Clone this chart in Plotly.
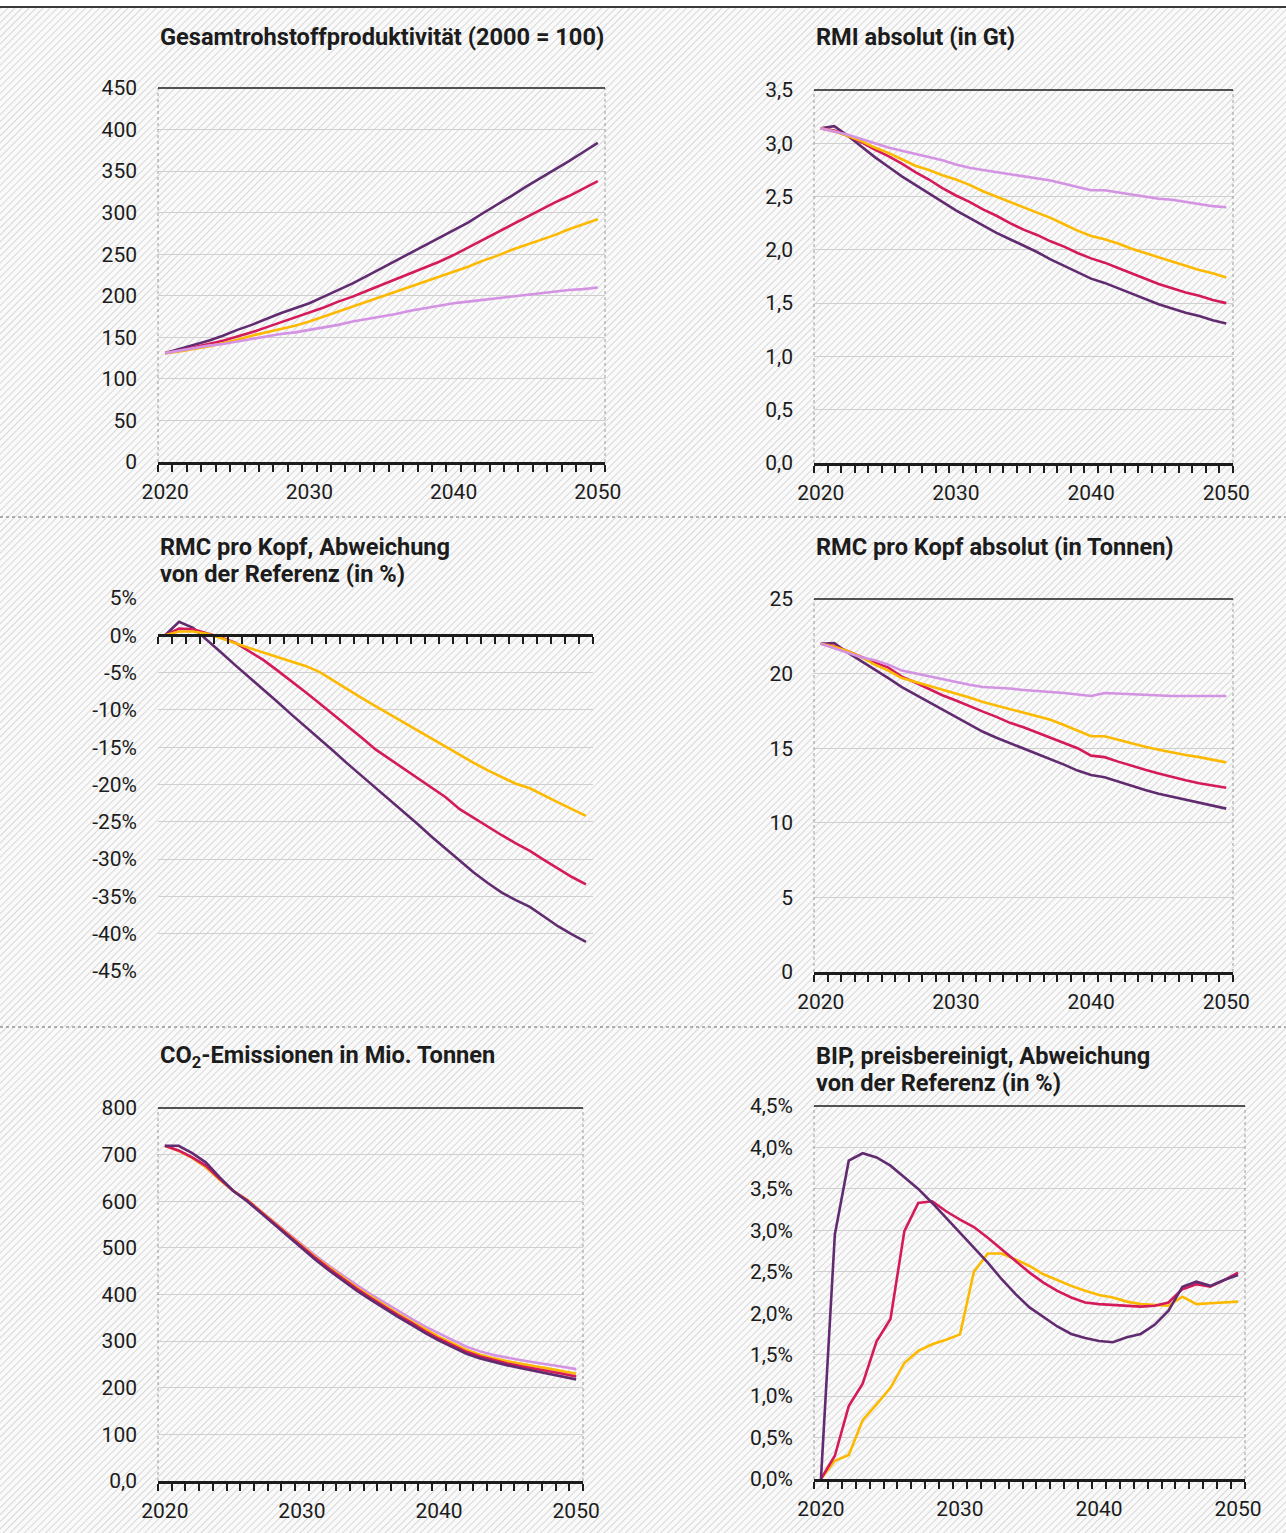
import base64
import plotly.graph_objects as go

W, H = 1286, 1533

years = list(range(2020, 2051))

# Gesamtrohstoffproduktivitaet (2000 = 100)
prod_dp = [131, 136, 141, 146, 152, 159, 165, 172, 179, 185, 191, 199, 207, 215, 224, 233,
           242, 251, 260, 269, 278, 288, 299, 309, 320, 331, 341, 352, 362, 373, 384]
prod_cr = [131, 134, 138, 142, 146, 151, 156, 162, 168, 174, 180, 186, 193, 199, 206, 213,
           220, 227, 234, 241, 249, 258, 267, 276, 286, 295, 303, 312, 320, 329, 338]
prod_ye = [131, 133, 136, 139, 143, 147, 152, 156, 160, 164, 169, 175, 181, 187, 193, 199,
           205, 211, 217, 223, 229, 235, 242, 248, 255, 261, 267, 273, 280, 286, 292]
prod_lp = [131, 134, 137, 140, 142, 145, 148, 151, 154, 156, 159, 162, 165, 169, 172, 175,
           178, 182, 185, 188, 191, 193, 195, 197, 199, 201, 203, 205, 207, 208, 210]

# RMI absolut (in Gt)
rmi_dp = [3.14, 3.16, 3.07, 2.97, 2.87, 2.78, 2.69, 2.61, 2.53, 2.45, 2.37, 2.30, 2.23, 2.16,
          2.10, 2.04, 1.98, 1.91, 1.85, 1.79, 1.73, 1.69, 1.64, 1.59, 1.54, 1.49, 1.45, 1.41,
          1.38, 1.34, 1.31]
rmi_cr = [3.14, 3.12, 3.07, 3.01, 2.94, 2.88, 2.81, 2.73, 2.66, 2.58, 2.51, 2.45, 2.38, 2.32,
          2.25, 2.19, 2.14, 2.08, 2.03, 1.97, 1.92, 1.88, 1.83, 1.78, 1.73, 1.68, 1.64, 1.60,
          1.57, 1.53, 1.50]
rmi_ye = [3.14, 3.11, 3.07, 3.02, 2.96, 2.91, 2.85, 2.79, 2.75, 2.70, 2.66, 2.61, 2.55, 2.50,
          2.45, 2.40, 2.35, 2.30, 2.24, 2.18, 2.13, 2.10, 2.06, 2.01, 1.97, 1.93, 1.89, 1.85,
          1.81, 1.78, 1.74]
rmi_lp = [3.14, 3.11, 3.08, 3.04, 3.00, 2.96, 2.93, 2.90, 2.87, 2.84, 2.80, 2.77, 2.75, 2.73,
          2.71, 2.69, 2.67, 2.65, 2.62, 2.59, 2.56, 2.56, 2.54, 2.52, 2.50, 2.48, 2.47, 2.45,
          2.43, 2.41, 2.40]

# RMC pro Kopf, Abweichung von der Referenz (in %)
dev_dp = [0, 1.8, 1.0, -0.6, -2.3, -4.0, -5.6, -7.3, -8.9, -10.6, -12.2, -13.9, -15.5, -17.2,
          -18.8, -20.5, -22.1, -23.7, -25.3, -27.0, -28.6, -30.3, -31.8, -33.2, -34.5, -35.5,
          -36.4, -37.7, -39.0, -40.1, -41.1]
dev_cr = [0, 0.9, 0.8, 0.3, -0.3, -1.0, -2.1, -3.3, -4.7, -6.1, -7.6, -9.1, -10.6, -12.1,
          -13.7, -15.3, -16.6, -17.9, -19.1, -20.4, -21.7, -23.3, -24.5, -25.7, -26.8, -27.9,
          -28.9, -30.1, -31.3, -32.4, -33.4]
dev_ye = [0, 0.5, 0.5, 0.2, -0.4, -1.1, -1.7, -2.3, -2.9, -3.5, -4.1, -4.9, -6.1, -7.3,
          -8.4, -9.5, -10.6, -11.7, -12.8, -13.9, -15.0, -16.0, -17.1, -18.1, -19.0, -19.9,
          -20.5, -21.5, -22.4, -23.3, -24.2]

# RMC pro Kopf absolut (in Tonnen)
cap_dp = [22.0, 22.05, 21.4, 20.85, 20.3, 19.7, 19.1, 18.6, 18.1, 17.6, 17.05, 16.55, 16.1,
          15.7, 15.35, 15.0, 14.6, 14.25, 13.9, 13.5, 13.2, 13.05, 12.75, 12.45, 12.2, 11.95,
          11.75, 11.5, 11.3, 11.1, 10.95]
cap_cr = [22.0, 21.85, 21.5, 21.1, 20.75, 20.4, 19.8, 19.4, 18.95, 18.55, 18.2, 17.8, 17.45,
          17.1, 16.7, 16.4, 16.05, 15.7, 15.35, 15.0, 14.5, 14.4, 14.1, 13.8, 13.55, 13.3,
          13.05, 12.85, 12.65, 12.5, 12.35]
cap_ye = [22.0, 21.8, 21.5, 21.1, 20.6, 20.2, 19.7, 19.45, 19.2, 18.95, 18.7, 18.4, 18.1,
          17.85, 17.6, 17.4, 17.1, 16.9, 16.55, 16.2, 15.8, 15.8, 15.55, 15.3, 15.1, 14.9,
          14.7, 14.55, 14.4, 14.25, 14.05]
cap_lp = [22.0, 21.7, 21.4, 21.1, 20.9, 20.6, 20.2, 20.0, 19.8, 19.6, 19.45, 19.25, 19.1,
          19.05, 19.0, 18.9, 18.85, 18.8, 18.7, 18.6, 18.5, 18.7, 18.65, 18.6, 18.6, 18.55,
          18.5, 18.5, 18.5, 18.55, 18.5]

# CO2-Emissionen in Mio. Tonnen
co2_dp = [719, 719, 703, 683, 651, 622, 600, 575, 549, 523, 498, 474, 451, 429, 408, 389,
          370, 352, 335, 317, 301, 287, 273, 263, 255, 248, 242, 236, 231, 225, 218]
co2_cr = [719, 709, 694, 676, 648, 622, 602, 577, 552, 527, 502, 478, 455, 433, 412, 393,
          374, 356, 339, 321, 305, 291, 277, 267, 259, 252, 246, 241, 236, 230, 224]
co2_ye = [719, 708, 693, 673, 646, 622, 603, 578, 553, 528, 504, 480, 458, 436, 415, 396,
          377, 359, 342, 325, 309, 295, 281, 271, 263, 257, 251, 246, 241, 235, 230]
co2_lp = [719, 708, 693, 673, 646, 622, 603, 579, 554, 530, 506, 483, 461, 440, 420, 401,
          383, 365, 348, 331, 316, 302, 288, 278, 270, 264, 259, 254, 250, 245, 240]

# BIP, preisbereinigt, Abweichung von der Referenz (in %)
bip_dp = [0, 2.95, 3.84, 3.93, 3.88, 3.78, 3.64, 3.50, 3.33, 3.15, 2.98, 2.80, 2.61, 2.41,
          2.23, 2.07, 1.95, 1.84, 1.75, 1.70, 1.665, 1.65, 1.71, 1.75, 1.86, 2.03, 2.32, 2.38,
          2.33, 2.40, 2.46]
bip_cr = [0, 0.28, 0.88, 1.15, 1.66, 1.93, 2.99, 3.33, 3.35, 3.23, 3.13, 3.04, 2.91, 2.77,
          2.63, 2.49, 2.37, 2.27, 2.19, 2.13, 2.11, 2.10, 2.09, 2.08, 2.09, 2.13, 2.29, 2.35,
          2.32, 2.40, 2.49]
bip_ye = [0, 0.22, 0.29, 0.71, 0.90, 1.10, 1.40, 1.545, 1.625, 1.68, 1.745, 2.50, 2.72, 2.72,
          2.65, 2.57, 2.47, 2.40, 2.33, 2.27, 2.22, 2.19, 2.14, 2.11, 2.10, 2.09, 2.20, 2.11,
          2.12, 2.13, 2.14]

x_ticks = [2020, 2030, 2040, 2050]
x_labels = ["2020", "2030", "2040", "2050"]

y1_ticks = [0, 50, 100, 150, 200, 250, 300, 350, 400, 450]
y1_labels = ["0", "50", "100", "150", "200", "250", "300", "350", "400", "450"]
y2_ticks = [0, 0.5, 1.0, 1.5, 2.0, 2.5, 3.0, 3.5]
y2_labels = ["0,0", "0,5", "1,0", "1,5", "2,0", "2,5", "3,0", "3,5"]
y3_ticks = [-45, -40, -35, -30, -25, -20, -15, -10, -5, 0, 5]
y3_labels = ["-45%", "-40%", "-35%", "-30%", "-25%", "-20%", "-15%", "-10%", "-5%", "0%", "5%"]
y4_ticks = [0, 5, 10, 15, 20, 25]
y4_labels = ["0", "5", "10", "15", "20", "25"]
y5_ticks = [0, 100, 200, 300, 400, 500, 600, 700, 800]
y5_labels = ["0,0", "100", "200", "300", "400", "500", "600", "700", "800"]
y6_ticks = [0, 0.5, 1.0, 1.5, 2.0, 2.5, 3.0, 3.5, 4.0, 4.5]
y6_labels = ["0,0%", "0,5%", "1,0%", "1,5%", "2,0%", "2,5%", "3,0%", "3,5%", "4,0%", "4,5%"]

C_DP = "#612b70"
C_CR = "#d41a5b"
C_YE = "#fcb900"
C_LP = "#d392e2"
INK = "#1c1c1c"
FONT = "Roboto"

# panel boxes in pixels: left, right, top, bottom
boxes = [(158, 605, 88, 462), (814, 1233, 90, 463),
         (158, 593, 598, 971), (814, 1233, 599, 972),
         (158, 583, 1108, 1481), (814, 1245, 1106, 1479)]

# title lines: text, left px, centre px
title_lines = [
    ("Gesamtrohstoffproduktivität (2000 = 100)", 158, 37),
    ("RMI absolut (in Gt)", 814, 37),
    ("RMC pro Kopf, Abweichung", 158, 547),
    ("von der Referenz (in %)", 158, 574),
    ("RMC pro Kopf absolut (in Tonnen)", 814, 547),
    ("CO<sub>2</sub>-Emissionen in Mio. Tonnen", 158, 1056),
    ("BIP, preisbereinigt, Abweichung", 814, 1056),
    ("von der Referenz (in %)", 814, 1083),
]

panels = [
    ([prod_dp, prod_cr, prod_ye, prod_lp], [0, 450], y1_ticks, y1_labels),
    ([rmi_dp, rmi_cr, rmi_ye, rmi_lp], [0, 3.5], y2_ticks, y2_labels),
    ([dev_dp, dev_cr, dev_ye], [-45, 5], y3_ticks, y3_labels),
    ([cap_dp, cap_cr, cap_ye, cap_lp], [0, 25], y4_ticks, y4_labels),
    ([co2_lp, co2_ye, co2_cr, co2_dp], [0, 800], y5_ticks, y5_labels),
    ([bip_ye, bip_cr, bip_dp], [0, 4.5], y6_ticks, y6_labels),
]
series_colors = [
    [C_DP, C_CR, C_YE, C_LP],
    [C_DP, C_CR, C_YE, C_LP],
    [C_DP, C_CR, C_YE],
    [C_DP, C_CR, C_YE, C_LP],
    [C_LP, C_YE, C_CR, C_DP],
    [C_YE, C_CR, C_DP],
]


def dom_x(l, r):
    return [l / W, r / W]


def dom_y(t, b):
    return [1 - b / H, 1 - t / H]


fig = go.Figure()
layout = dict(
    width=W, height=H,
    margin=dict(l=0, r=0, t=0, b=0, autoexpand=False),
    paper_bgcolor="white", plot_bgcolor="rgba(0,0,0,0)",
    showlegend=False,
    font=dict(family=FONT, size=21, color=INK),
)
shapes = []
annotations = []

minor_ticks = dict(ticks="outside", tick0=2019.5, dtick=1, ticklen=7, tickwidth=2,
                   tickcolor=INK, showgrid=False)

for i, (series, yrange, yt, yl) in enumerate(panels):
    n = i + 1
    xa = "xaxis" if n == 1 else "xaxis%d" % n
    ya = "yaxis" if n == 1 else "yaxis%d" % n
    xr = "x" if n == 1 else "x%d" % n
    yr = "y" if n == 1 else "y%d" % n
    l, r, t, b = boxes[i]

    # panel 3 draws on an overlay x axis that sits on the zero line
    trace_x = "x7" if n == 3 else xr
    for vals, col in zip(series, series_colors[i]):
        fig.add_trace(go.Scatter(x=years, y=vals, mode="lines", xaxis=trace_x, yaxis=yr,
                                 line=dict(color=col, width=2.6), hoverinfo="skip"))

    layout[ya] = dict(domain=dom_y(t, b), anchor=xr, range=yrange, tickmode="array",
                      tickvals=yt, ticktext=yl, ticks="", showline=False, zeroline=False,
                      showgrid=True, gridcolor="#cfcfcf", gridwidth=1.3,
                      ticklabelstandoff=20, automargin=False, fixedrange=True)

    if n == 3:
        layout[xa] = dict(domain=dom_x(l, r), anchor=yr, range=[2019.5, 2050.5],
                          tickmode="array", tickvals=x_ticks, ticktext=x_labels, ticks="",
                          showline=False, showgrid=False, zeroline=False,
                          ticklabelstandoff=9, automargin=False)
        d = dom_y(t, b)
        pos = d[0] + (0 - yrange[0]) / (yrange[1] - yrange[0]) * (d[1] - d[0])
        layout["xaxis7"] = dict(domain=dom_x(l, r), anchor="free", position=pos,
                                overlaying="x3", range=[2019.5, 2050.5],
                                tickmode="array", tickvals=x_ticks, ticks="",
                                showticklabels=False, showline=True, linewidth=3,
                                linecolor=INK, showgrid=False, zeroline=False,
                                automargin=False, minor=minor_ticks)
    else:
        layout[xa] = dict(domain=dom_x(l, r), anchor=yr, range=[2019.5, 2050.5],
                          tickmode="array", tickvals=x_ticks, ticktext=x_labels, ticks="",
                          showline=True, linewidth=3, linecolor=INK, showgrid=False,
                          zeroline=False, ticklabelstandoff=9, automargin=False,
                          minor=minor_ticks)

    # frame: dotted sides, black top
    for xd in (0, 1):
        shapes.append(dict(type="line", xref=xr + " domain", yref=yr + " domain",
                           x0=xd, x1=xd, y0=0, y1=1,
                           line=dict(color="#9a9a9a", width=1, dash="dot")))
    shapes.append(dict(type="line", xref=xr + " domain", yref=yr + " domain",
                       x0=0, x1=1, y0=1, y1=1, line=dict(color=INK, width=1.6)))

for txt, tx, ty in title_lines:
    annotations.append(dict(text="<b>" + txt + "</b>", xref="paper", yref="paper",
                            x=tx / W, y=1 - ty / H, xanchor="left", yanchor="middle",
                            align="left", showarrow=False,
                            font=dict(family=FONT, size=23.6, color=INK)))

# separators
shapes.append(dict(type="line", xref="paper", yref="paper", x0=0, x1=1,
                   y0=1 - 7 / H, y1=1 - 7 / H, line=dict(color="#3a3a3a", width=2)))
for sy in (517, 1027):
    shapes.append(dict(type="line", xref="paper", yref="paper", x0=0, x1=1,
                       y0=1 - sy / H, y1=1 - sy / H,
                       line=dict(color="#6a6a6a", width=1, dash="dot")))

# hatched background
hatch = ('<svg xmlns="http://www.w3.org/2000/svg" width="%d" height="%d">'
         '<defs><pattern id="h" width="5" height="5" patternUnits="userSpaceOnUse" '
         'patternTransform="rotate(45)"><rect width="5" height="5" fill="#fafafa"/>'
         '<line x1="0" y1="0" x2="0" y2="5" stroke="#d4d4d4" stroke-width="1.8"/>'
         '</pattern></defs><rect width="100%%" height="100%%" fill="url(#h)"/></svg>'
         % (W, H - 8))
src = "data:image/svg+xml;base64," + base64.b64encode(hatch.encode()).decode()

layout["images"] = [dict(source=src, xref="paper", yref="paper", x=0, y=1 - 8 / H,
                         sizex=1, sizey=(H - 8) / H, sizing="stretch",
                         xanchor="left", yanchor="top", layer="below")]
layout["shapes"] = shapes
layout["annotations"] = annotations

fig.update_layout(**layout)
fig.write_html("out.html", config={"displayModeBar": False},
               post_script="document.body.style.margin = '0';")
